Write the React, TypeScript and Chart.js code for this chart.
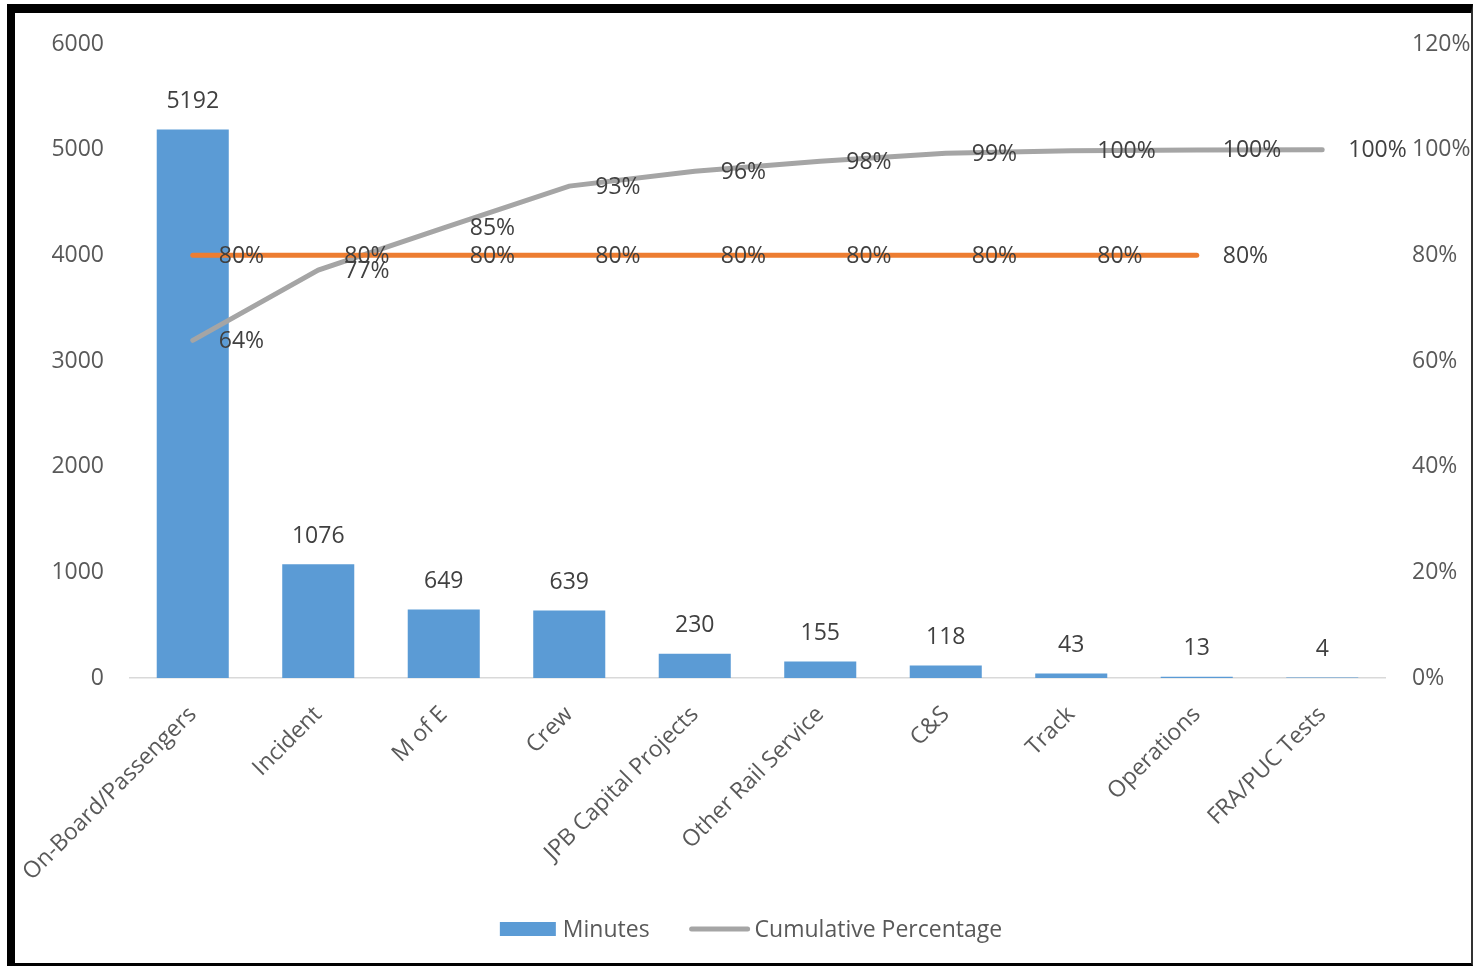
import React, { useEffect, useRef } from "react";
import { Chart, registerables } from "chart.js";

Chart.register(...registerables);

const categories = [
  "On-Board/Passengers",
  "Incident",
  "M of E",
  "Crew",
  "JPB Capital Projects",
  "Other Rail Service",
  "C&S",
  "Track",
  "Operations",
  "FRA/PUC Tests",
];
const minutes = [5192, 1076, 649, 639, 230, 155, 118, 43, 13, 4];
const cumulativePct = [63.9, 77.2, 85.2, 93.1, 95.9, 97.8, 99.3, 99.8, 99.95, 100];
const thresholdPct = [80, 80, 80, 80, 80, 80, 80, 80, 80];
const leftTicks = [0, 1000, 2000, 3000, 4000, 5000, 6000];
const rightTicks = [0, 20, 40, 60, 80, 100, 120];

const BLUE = "#5B9BD5";
const GRAY = "#A5A5A5";
const ORANGE = "#ED7D31";
const FONT = '"Open Sans", sans-serif';

const dataLabelPlugin = {
  id: "dataLabelPlugin",
  afterDatasetsDraw(chart: any) {
    const ctx = chart.ctx;
    ctx.save();
    ctx.font = `23px ${FONT}`;
    ctx.fillStyle = "#404040";
    ctx.textBaseline = "middle";
    chart.data.datasets.forEach((ds: any, i: number) => {
      const meta = chart.getDatasetMeta(i);
      meta.data.forEach((el: any, j: number) => {
        const v = ds.data[j];
        if (ds.type === "bar") {
          ctx.textAlign = "center";
          ctx.fillText(String(v), el.x, el.y - 28);
        } else {
          ctx.textAlign = "left";
          ctx.fillText(Math.round(v) + "%", el.x + 26, el.y + 1);
        }
      });
    });
    ctx.restore();
  },
};

// Legend for the first two series (the 80% reference line is not listed)
const legendPlugin = {
  id: "customLegend",
  afterDraw(chart: any) {
    const ctx = chart.ctx;
    const ds = chart.data.datasets;
    const boxW = 56;
    const lineW = 60;
    const textGap = 7;
    const itemGap = 40;
    ctx.save();
    ctx.font = `23px ${FONT}`;
    ctx.textBaseline = "middle";
    ctx.textAlign = "left";
    const w0 = ctx.measureText(ds[0].label).width;
    const w1 = ctx.measureText(ds[1].label).width;
    const total = boxW + textGap + w0 + itemGap + lineW + textGap + w1;
    let x = chart.width / 2 + 9 - total / 2;
    const y = chart.height - 34;
    ctx.fillStyle = ds[0].backgroundColor;
    ctx.fillRect(x, y - 7, boxW, 14);
    x += boxW + textGap;
    ctx.fillStyle = "#595959";
    ctx.fillText(ds[0].label, x, y + 1);
    x += w0 + itemGap;
    ctx.strokeStyle = ds[1].borderColor;
    ctx.lineWidth = 5;
    ctx.lineCap = "round";
    ctx.beginPath();
    ctx.moveTo(x + 2, y);
    ctx.lineTo(x + lineW - 2, y);
    ctx.stroke();
    x += lineW + textGap - 2;
    ctx.fillStyle = "#595959";
    ctx.fillText(ds[1].label, x, y + 1);
    ctx.restore();
  },
};

export default function App() {
  const canvasRef = useRef<HTMLCanvasElement | null>(null);

  useEffect(() => {
    const canvas = canvasRef.current;
    if (!canvas) return;
    Chart.defaults.font.family = FONT;
    const chart = new Chart(canvas, {
      data: {
        labels: categories,
        datasets: [
          {
            type: "bar",
            label: "Minutes",
            data: minutes,
            backgroundColor: BLUE,
            yAxisID: "y",
            barPercentage: 0.574,
            categoryPercentage: 1,
            order: 3,
          },
          {
            type: "line",
            label: "Cumulative Percentage",
            data: cumulativePct,
            borderColor: GRAY,
            backgroundColor: GRAY,
            borderWidth: 5,
            pointRadius: 0,
            tension: 0,
            borderCapStyle: "round",
            yAxisID: "y1",
            order: 2,
          },
          {
            type: "line",
            label: "80%",
            data: thresholdPct,
            borderColor: ORANGE,
            backgroundColor: ORANGE,
            borderWidth: 5,
            pointRadius: 0,
            tension: 0,
            borderCapStyle: "round",
            yAxisID: "y1",
            order: 1,
          },
        ] as any,
      },
      options: {
        animation: false,
        responsive: false,
        maintainAspectRatio: false,
        layout: { padding: { top: 31, bottom: 55, left: 0, right: 0 } },
        plugins: {
          tooltip: { enabled: false },
          legend: { display: false },
        },
        scales: {
          x: {
            grid: { display: false },
            border: { display: true, color: "#D9D9D9", width: 1.5 },
            ticks: {
              color: "#595959",
              font: { size: 23 },
              minRotation: 45,
              maxRotation: 45,
              padding: 15,
              autoSkip: false,
            },
            afterFit: (s: any) => {
              s.height = 230;
              s.paddingLeft = 0;
              s.paddingRight = 0;
            },
          },
          y: {
            position: "left",
            min: 0,
            max: 6000,
            grid: { display: false, drawTicks: false },
            border: { display: false },
            afterBuildTicks: (s: any) => {
              s.ticks = leftTicks.map((v) => ({ value: v }));
            },
            ticks: {
              color: "#595959",
              font: { size: 23 },
              padding: 26,
              callback: (v: any) => String(v),
            },
            afterFit: (s: any) => {
              s.width = 115;
              s.paddingTop = 0;
              s.paddingBottom = 0;
            },
          },
          y1: {
            position: "right",
            min: 0,
            max: 120,
            grid: { display: false, drawTicks: false },
            border: { display: false },
            afterBuildTicks: (s: any) => {
              s.ticks = rightTicks.map((v) => ({ value: v }));
            },
            ticks: {
              color: "#595959",
              font: { size: 23 },
              padding: 27,
              callback: (v: any) => v + "%",
            },
            afterFit: (s: any) => {
              s.width = 86;
              s.paddingTop = 0;
              s.paddingBottom = 0;
            },
          },
        },
      } as any,
      plugins: [dataLabelPlugin, legendPlugin],
    });
    return () => chart.destroy();
  }, []);

  return (
    <div
      style={{
        position: "fixed",
        left: 0,
        top: 0,
        width: 1474,
        height: 966,
        background: "#fff",
      }}
    >
      <div
        style={{
          position: "absolute",
          left: 7,
          top: 4,
          width: 1466,
          height: 962,
          boxSizing: "border-box",
          borderTop: "9px solid #000",
          borderLeft: "8px solid #000",
          borderRight: "2px solid #333",
          borderBottom: "3px solid #000",
          background: "#fff",
        }}
      >
        <canvas ref={canvasRef} width={1456} height={950} style={{ display: "block" }} />
      </div>
    </div>
  );
}
